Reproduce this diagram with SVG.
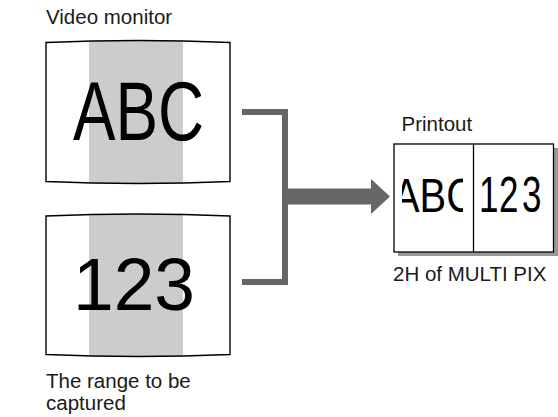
<svg xmlns="http://www.w3.org/2000/svg" width="558" height="417" viewBox="0 0 558 417">
<style>
.lbl{font-family:"Liberation Sans",Arial,sans-serif;font-size:20.5px;fill:#1a1a1a}
.big{font-family:"Liberation Sans",Arial,sans-serif;fill:#000}
.screen{fill:none;stroke:#000;stroke-width:1.4}
.band{fill:#cccccc}
.conn{fill:none;stroke:#666;stroke-width:6}
</style>
<defs>
<clipPath id="m1"><path d="M46,42.5 Q138,38.5 230,42.5 L230,181.5 Q138,185.5 46,181.5 Z"/></clipPath>
<clipPath id="m2"><path d="M46,216 Q138,212 230,216 L230,354.5 Q138,358.5 46,354.5 Z"/></clipPath>
<clipPath id="pa"><rect x="402" y="145" width="61" height="106"/></clipPath>
<clipPath id="pb"><rect x="476" y="145" width="67.5" height="106"/></clipPath>
</defs>
<text class="lbl" x="46" y="24">Video monitor</text>
<g id="monitor1">
<rect class="band" x="89" y="30" width="94" height="160" clip-path="url(#m1)"/>
<text class="big" transform="translate(73,140) scale(0.759,1)" font-size="84">ABC</text>
<path class="screen" d="M46,42.5 Q138,38.5 230,42.5 L230,181.5 Q138,185.5 46,181.5 Z"/>
</g>
<g id="monitor2">
<rect class="band" x="89" y="205" width="94" height="160" clip-path="url(#m2)"/>
<text class="big" transform="translate(73,310) scale(0.982,1)" font-size="74.5">123</text>
<path class="screen" d="M46,216 Q138,212 230,216 L230,354.5 Q138,358.5 46,354.5 Z"/>
</g>
<text class="lbl" x="46" y="388">The range to be</text>
<text class="lbl" x="46" y="410">captured</text>
<g id="connectors">
<polyline class="conn" points="242,112 285,112 285,282 242,282"/>
<rect x="285" y="188.5" width="87" height="16" fill="#666"/>
<polygon points="371,179 390,196.5 371,214" fill="#666"/>
</g>
<text class="lbl" x="401.5" y="130.5">Printout</text>
<g id="printout">
<rect x="398" y="148" width="160" height="108" fill="#999"/>
<rect x="394" y="144" width="159.5" height="108" fill="#fff" stroke="#000" stroke-width="1.3"/>
<line x1="473.5" y1="144" x2="473.5" y2="252" stroke="#000" stroke-width="1.3"/>
<g clip-path="url(#pa)"><text class="big" transform="translate(393,211.5) scale(0.814,1)" font-size="49">ABC</text></g>
<g clip-path="url(#pb)"><text class="big" transform="translate(479,211.5) scale(0.7,1)" font-size="50" x="0 28.6 61.4">123</text></g>
</g>
<text class="lbl" x="393" y="280.5">2H of MULTI PIX</text>
</svg>
